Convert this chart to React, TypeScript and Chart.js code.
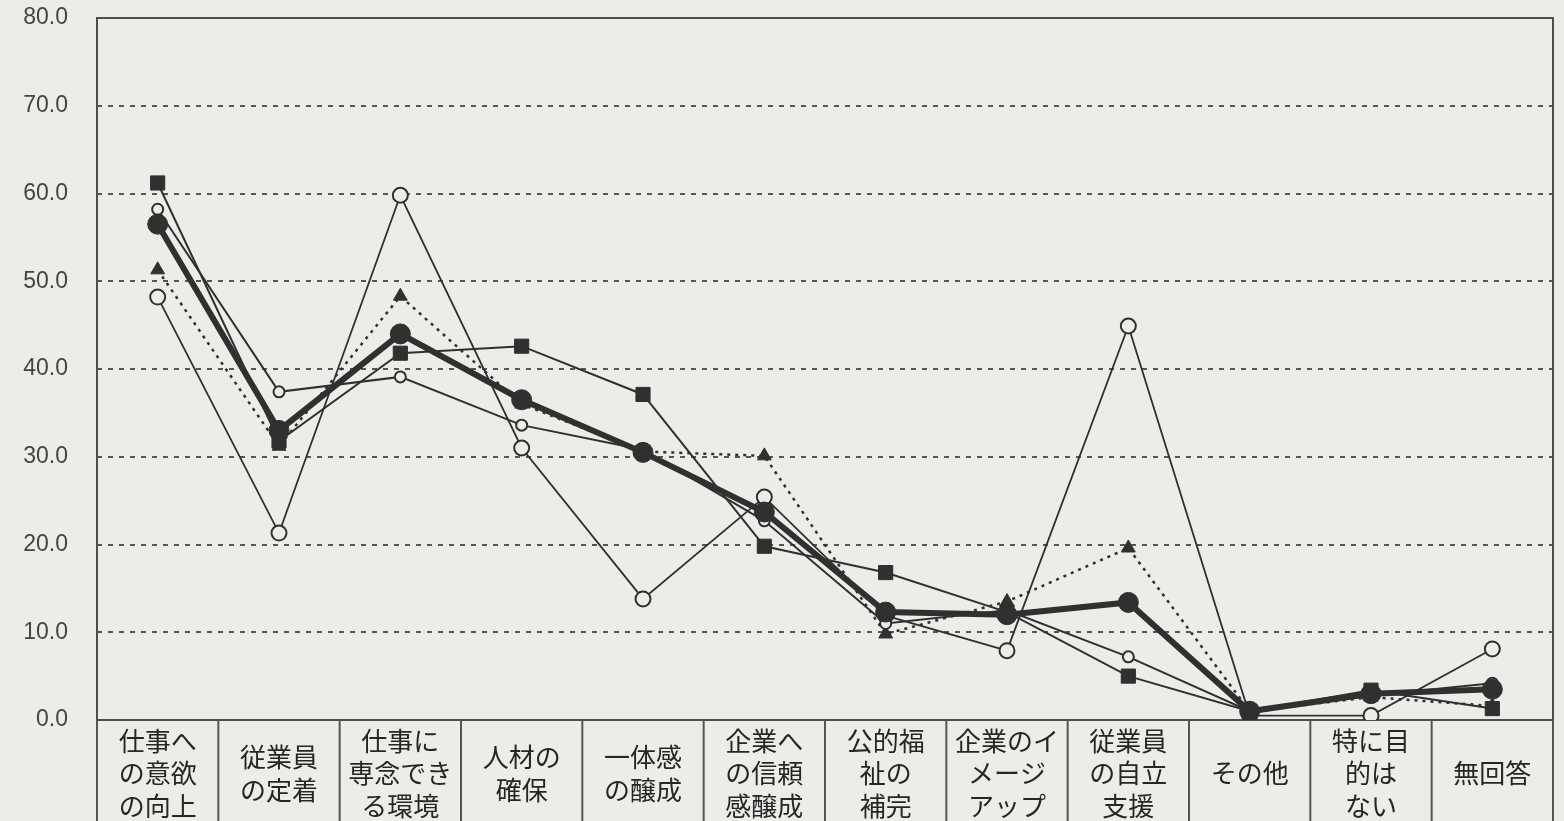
import React, { useEffect, useRef } from "react";
import { Chart, registerables } from "chart.js";

Chart.register(...registerables);

const categories: string[][] = [
  ["仕事へ", "の意欲", "の向上"],
  ["従業員", "の定着"],
  ["仕事に", "専念でき", "る環境"],
  ["人材の", "確保"],
  ["一体感", "の醸成"],
  ["企業へ", "の信頼", "感醸成"],
  ["公的福", "祉の", "補完"],
  ["企業のイ", "メージ", "アップ"],
  ["従業員", "の自立", "支援"],
  ["その他"],
  ["特に目", "的は", "ない"],
  ["無回答"],
];

const overallValues = [56.5, 33.0, 44.0, 36.5, 30.5, 23.7, 12.3, 12.0, 13.4, 1.0, 3.0, 3.5];
const squareValues = [61.2, 31.8, 41.8, 42.6, 37.1, 19.8, 16.8, 12.3, 5.0, 1.0, 3.4, 1.3];
const smallCircleValues = [58.2, 37.4, 39.1, 33.6, 30.8, 22.7, 11.0, 12.5, 7.2, 1.0, 2.8, 4.2];
const openCircleValues = [48.2, 21.3, 59.8, 31.0, 13.8, 25.4, 11.9, 7.9, 44.9, 0.5, 0.5, 8.1];
const triangleValues = [51.3, 31.2, 48.3, 36.0, 30.6, 30.1, 9.8, 13.5, 19.6, 1.0, 2.6, 1.6];

const yMin = 0;
const yMax = 80;
const yStep = 10;

const BG = "#eeece8";
const INK = "#303030";
const FRAME = "#4d4d4d";

const framePlugin = {
  id: "frameTable",
  beforeDatasetsDraw(chart: any) {
    const { ctx, chartArea } = chart;
    const xScale = chart.scales.x;
    const n = categories.length;
    const step = (chartArea.right - chartArea.left) / n;
    ctx.save();
    ctx.strokeStyle = FRAME;
    ctx.lineWidth = 2;
    ctx.setLineDash([]);
    ctx.strokeRect(chartArea.left, chartArea.top, chartArea.right - chartArea.left, chartArea.bottom - chartArea.top);
    ctx.strokeStyle = "#555";
    ctx.lineWidth = 2;
    for (let i = 0; i <= n; i++) {
      const x = xScale.getPixelForValue(i) - step / 2;
      ctx.beginPath();
      ctx.moveTo(x, chartArea.bottom);
      ctx.lineTo(x, chart.height);
      ctx.stroke();
    }
    ctx.restore();
  },
};

export default function App() {
  const canvasRef = useRef<HTMLCanvasElement | null>(null);

  useEffect(() => {
    if (!canvasRef.current) return;
    const chart = new Chart(canvasRef.current, {
      type: "line",
      data: {
        labels: categories,
        datasets: [
          {
            label: "全体",
            data: overallValues,
            borderColor: INK,
            backgroundColor: INK,
            borderWidth: 6,
            pointStyle: "circle",
            pointRadius: 10,
            pointBackgroundColor: INK,
            pointBorderColor: INK,
            pointBorderWidth: 1,
          },
          {
            label: "系列2",
            data: squareValues,
            borderColor: INK,
            backgroundColor: INK,
            borderWidth: 2,
            pointStyle: "rect",
            pointRadius: 10,
            pointBackgroundColor: INK,
            pointBorderColor: INK,
            pointBorderWidth: 1,
          },
          {
            label: "系列3",
            data: smallCircleValues,
            borderColor: INK,
            backgroundColor: BG,
            borderWidth: 2,
            pointStyle: "circle",
            pointRadius: 5.5,
            pointBackgroundColor: BG,
            pointBorderColor: INK,
            pointBorderWidth: 2,
          },
          {
            label: "系列4",
            data: openCircleValues,
            borderColor: INK,
            backgroundColor: BG,
            borderWidth: 1.8,
            pointStyle: "circle",
            pointRadius: 7.5,
            pointBackgroundColor: BG,
            pointBorderColor: INK,
            pointBorderWidth: 2,
          },
          {
            label: "系列5",
            data: triangleValues,
            borderColor: INK,
            backgroundColor: INK,
            borderWidth: 2.5,
            borderDash: [3, 5],
            pointStyle: "triangle",
            pointRadius: 8,
            pointBackgroundColor: INK,
            pointBorderColor: INK,
            pointBorderWidth: 1,
          },
        ],
      },
      options: {
        responsive: false,
        animation: false,
        devicePixelRatio: 1,
        layout: { padding: { left: 0, top: 18, right: 3, bottom: 0 } },
        plugins: {
          legend: { display: false },
          tooltip: { enabled: false },
          title: { display: false },
        },
        elements: { line: { tension: 0 } },
        scales: {
          x: {
            type: "category",
            offset: true,
            grid: { display: false, drawTicks: false },
            border: { display: false },
            ticks: {
              autoSkip: false,
              maxRotation: 0,
              minRotation: 0,
              padding: 21,
              crossAlign: "center",
              color: "#262626",
              font: { family: "'Noto Sans CJK JP', sans-serif", size: 26, lineHeight: 1.25 },
            },
            afterFit(scale: any) {
              scale.height = 101;
              scale.paddingLeft = 0;
              scale.paddingRight = 0;
            },
          },
          y: {
            min: yMin,
            max: yMax,
            grid: {
              drawTicks: false,
              lineWidth: 2,
              color: (c: any) =>
                c.tick && (c.tick.value === yMin || c.tick.value === yMax) ? "rgba(0,0,0,0)" : "#555",
            },
            border: { display: false, dash: [5, 6] },
            ticks: {
              stepSize: yStep,
              padding: 29,
              color: "#444",
              font: { family: "'Liberation Sans', sans-serif", size: 23 },
              callback: (v: any) => Number(v).toFixed(1),
            },
            afterFit(scale: any) {
              scale.width = 97;
              scale.paddingTop = 0;
              scale.paddingBottom = 0;
            },
          },
        },
      },
      plugins: [framePlugin],
    });
    return () => chart.destroy();
  }, []);

  return (
    <div
      style={{
        position: "absolute",
        left: 0,
        top: 0,
        width: 1564,
        height: 821,
        background: BG,
        overflow: "hidden",
      }}
    >
      <canvas ref={canvasRef} width={1564} height={821} style={{ display: "block" }} />
    </div>
  );
}
